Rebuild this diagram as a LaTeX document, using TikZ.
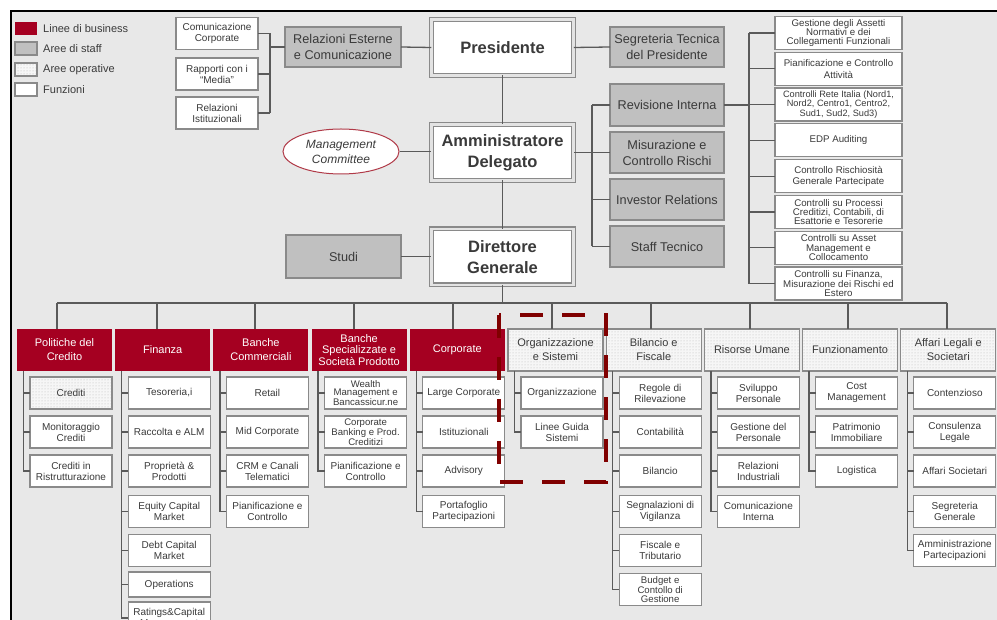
\documentclass[tikz,border=0pt]{standalone}
\usepackage{fontspec}
\setmainfont{Liberation Sans}
\usetikzlibrary{patterns,shapes.geometric}
\definecolor{bg}{HTML}{E8E8E8}
\definecolor{bizred}{HTML}{A50021}
\definecolor{staff}{HTML}{C0C0C0}
\definecolor{edge}{HTML}{8A8A8A}
\definecolor{ink}{HTML}{3A3A3A}
\definecolor{wirec}{HTML}{5A5A5A}
\definecolor{dashred}{HTML}{800000}
\definecolor{ellred}{HTML}{B03A48}

\begin{document}
\begin{tikzpicture}[x=1pt,y=-1pt,
  box/.style={rectangle, inner sep=0pt, outer sep=0pt, align=center, text=ink, line width=1.2pt},
  fnbox/.style={box, draw=edge, fill=white, minimum width=82, minimum height=32, font=\fontsize{10}{11}\selectfont},
  fntight/.style={fnbox, font=\fontsize{9.6}{8.8}\selectfont},
  rcbox/.style={box, draw=edge, fill=white, minimum width=127, minimum height=33, font=\fontsize{9.7}{9.3}\selectfont},
  rcwide/.style={rcbox, font=\fontsize{9.7}{11.5}\selectfont},
  staffbox/.style={box, draw=edge, fill=staff, minimum width=114, minimum height=41, font=\fontsize{12.7}{16}\selectfont},
  hdr/.style={box, minimum width=95, minimum height=42, font=\fontsize{11}{14}\selectfont},
  bizbox/.style={hdr, fill=bizred, text=white},
  opbox/.style={box, draw=edge, preaction={fill=gray!7}, pattern=dots, pattern color=gray!55},
  ophdr/.style={hdr, opbox},
  topbox/.style={box, draw=edge, double=gray!22, double distance=2.6pt, line width=1.2pt, fill=white,
    minimum width=142.5, minimum height=56, font=\bfseries\fontsize{16.5}{21}\selectfont},
  legtext/.style={anchor=west, inner sep=0pt, text=ink, font=\fontsize{11}{13}\selectfont},
  wire/.style={draw=wirec, line width=1.3pt},
]
\useasboundingbox (0,0) rectangle (997,620);
\clip (0,0) rectangle (997,620);

% frame and background
\fill[bg] (11,11) rectangle (999,622);
\draw[black, line width=2pt] (11,622) -- (11,11) -- (999,11);

% legend
\node[box, fill=bizred, minimum width=22, minimum height=13] (lg1) at (26,28.5) {};
\node[box, draw=edge, fill=staff, minimum width=22, minimum height=13] (lg2) at (26,48.5) {};
\node[box, opbox, minimum width=22, minimum height=13] (lg3) at (26,69.5) {};
\node[box, draw=edge, fill=white, minimum width=22, minimum height=13] (lg4) at (26,89.5) {};
\node[legtext] (lt1) at (43,28.5) {Linee di business};
\node[legtext] (lt2) at (43,48.5) {Aree di staff};
\node[legtext] (lt3) at (43,69.5) {Aree operative};
\node[legtext] (lt4) at (43,89.5) {Funzioni};

% top management
\node[topbox] (pres) at (502.5,47.5) {Presidente};
\node[topbox] (ad) at (502.5,152.5) {Amministratore\\Delegato};
\node[topbox] (dg) at (502.5,257) {Direttore\\Generale};

\node[staffbox, minimum width=116, minimum height=40] (relest) at (343,47) {Relazioni Esterne\\e Comunicazione};
\node[staffbox, minimum height=40] (segr) at (667,47) {Segreteria Tecnica\\del Presidente};
\node[staffbox, minimum width=115, minimum height=43] (studi) at (343.5,256.5) {Studi};
\node[staffbox, minimum height=42] (revint) at (667,105) {Revisione Interna};
\node[staffbox] (misur) at (667,152.5) {Misurazione e\\Controllo Rischi};
\node[staffbox] (invrel) at (667,199.5) {Investor Relations};
\node[staffbox] (stafftec) at (667,246.5) {Staff Tecnico};

\node[ellipse, draw=ellred, line width=1pt, fill=white, inner sep=0pt, minimum width=116, minimum height=45,
  text=ink, align=center, font=\itshape\fontsize{12}{15}\selectfont] (mc) at (341,151.5) {Management\\Committee};

% communication functions
\node[fnbox] (comcorp) at (217,33.5) {Comunicazione\\Corporate};
\node[fnbox] (rapp) at (217,74) {Rapporti con i\\“Media”};
\node[fnbox] (relist) at (217,113) {Relazioni\\Istituzionali};
\coordinate (tlb) at (270,47);

% internal audit functions
\node[rcbox] (r1) at (838.5,33) {Gestione degli Assetti\\Normativi e dei\\Collegamenti Funzionali};
\node[rcwide] (r2) at (838.5,68.8) {Pianificazione e Controllo\\Attività};
\node[rcbox, font=\fontsize{9.2}{9.3}\selectfont] (r3) at (838.5,104.6) {Controlli Rete Italia (Nord1,\\Nord2, Centro1, Centro2,\\Sud1, Sud2, Sud3)};
\node[rcbox] (r4) at (838.5,140.4) {EDP Auditing};
\node[rcwide] (r5) at (838.5,176.2) {Controllo Rischiosità\\Generale Partecipate};
\node[rcbox] (r6) at (838.5,212) {Controlli su Processi\\Creditizi, Contabili, di\\Esattorie e Tesorerie};
\node[rcbox] (r7) at (838.5,247.8) {Controlli su Asset\\Management e\\Collocamento};
\node[rcbox] (r8) at (838.5,283.6) {Controlli su Finanza,\\Misurazione dei Rischi ed\\Estero};
\coordinate (rb) at (749,105);
\coordinate (sb) at (592,152.5);

% connectors, upper part
\draw[wire] (pres.south) -- (ad.north);
\draw[wire] (ad.south) -- (dg.north);
\draw[wire] (relest.east) -- (pres.west);
\draw[wire] (pres.east) -- (segr.west);
\draw[wire] (mc.east) -- (mc.east -| ad.west);
\draw[wire] (studi.east) -- (studi.east -| dg.west);
\draw[wire] (comcorp.east) -- (comcorp.east -| tlb);
\draw[wire] (rapp.east) -- (rapp.east -| tlb);
\draw[wire] (relist.east) -- (relist.east -| tlb);
\draw[wire] (comcorp.east -| tlb) -- (relist.east -| tlb);
\draw[wire] (tlb) -- (relest.west);
\draw[wire] (ad.east) -- (misur.west);
\draw[wire] (revint.west -| sb) -- (stafftec.west -| sb);
\draw[wire] (revint.west) -- (revint.west -| sb);
\draw[wire] (invrel.west) -- (invrel.west -| sb);
\draw[wire] (stafftec.west) -- (stafftec.west -| sb);
\draw[wire] (revint.east) -- (rb);
\draw[wire] (r1.west -| rb) -- (r8.west -| rb);
\foreach \r in {r1,r2,r3,r4,r5,r6,r7,r8} \draw[wire] (\r.west) -- (\r.west -| rb);

% business lines and operating areas
\begin{scope}[xshift=17pt]
  \node[bizbox] (h1) at (47.5,350) {Politiche del\\Credito};
  \node[fnbox, opbox] (c1a) at (54,393) {Crediti};
  \node[fnbox] (c1b) at (54,432) {Monitoraggio\\Crediti};
  \node[fnbox] (c1c) at (54,471) {Crediti in\\Ristrutturazione};
  \coordinate (b1) at (6.5,371);
\end{scope}
\begin{scope}[xshift=115.2pt]
  \node[bizbox] (h2) at (47.5,350) {Finanza};
  \node[fnbox] (c2a) at (54,393) {Tesoreria,i};
  \node[fnbox] (c2b) at (54,432) {Raccolta e ALM};
  \node[fnbox] (c2c) at (54,471) {Proprietà \&\\Prodotti};
  \node[fnbox] (c2d) at (54,511.5) {Equity Capital\\Market};
  \node[fnbox] (c2e) at (54,550.5) {Debt Capital\\Market};
  \node[fnbox, minimum height=25] (c2f) at (54,584.5) {Operations};
  \node[fnbox] (c2g) at (54,618) {Ratings\&Capital\\Management};
  \coordinate (b2) at (6.5,371);
\end{scope}
\begin{scope}[xshift=213.4pt]
  \node[bizbox] (h3) at (47.5,350) {Banche\\Commerciali};
  \node[fnbox] (c3a) at (54,393) {Retail};
  \node[fnbox] (c3b) at (54,432) {Mid Corporate};
  \node[fnbox] (c3c) at (54,471) {CRM e Canali\\Telematici};
  \node[fnbox] (c3d) at (54,511.5) {Pianificazione e\\Controllo};
  \coordinate (b3) at (6.5,371);
\end{scope}
\begin{scope}[xshift=311.6pt]
  \node[bizbox, font=\fontsize{11}{11.5}\selectfont] (h4) at (47.5,350) {Banche\\Specializzate e\\Società Prodotto};
  \node[fntight] (c4a) at (54,393) {Wealth\\Management e\\Bancassicur.ne};
  \node[fntight] (c4b) at (54,432) {Corporate\\Banking e Prod.\\Creditizi};
  \node[fnbox] (c4c) at (54,471) {Pianificazione e\\Controllo};
  \coordinate (b4) at (6.5,371);
\end{scope}
\begin{scope}[xshift=409.8pt]
  \node[bizbox] (h5) at (47.5,350) {Corporate};
  \node[fnbox] (c5a) at (54,393) {Large Corporate};
  \node[fnbox] (c5b) at (54,432) {Istituzionali};
  \node[fnbox] (c5c) at (54,471) {Advisory};
  \node[fnbox] (c5d) at (54,511.5) {Portafoglio\\Partecipazioni};
  \coordinate (b5) at (6.5,371);
\end{scope}
\begin{scope}[xshift=508pt]
  \node[ophdr] (h6) at (47.5,350) {Organizzazione\\e Sistemi};
  \node[fnbox] (c6a) at (54,393) {Organizzazione};
  \node[fnbox] (c6b) at (54,432) {Linee Guida\\Sistemi};
  \coordinate (b6) at (6.5,371);
\end{scope}
\begin{scope}[xshift=606.2pt]
  \node[ophdr] (h7) at (47.5,350) {Bilancio e\\Fiscale};
  \node[fnbox] (c7a) at (54,393) {Regole di\\Rilevazione};
  \node[fnbox] (c7b) at (54,432) {Contabilità};
  \node[fnbox] (c7c) at (54,471) {Bilancio};
  \node[fnbox] (c7d) at (54,511.5) {Segnalazioni di\\Vigilanza};
  \node[fnbox] (c7e) at (54,550.5) {Fiscale e\\Tributario};
  \node[fntight] (c7f) at (54,589.5) {Budget e\\Contollo di\\Gestione};
  \coordinate (b7) at (6.5,371);
\end{scope}
\begin{scope}[xshift=704.4pt]
  \node[ophdr] (h8) at (47.5,350) {Risorse Umane};
  \node[fnbox] (c8a) at (54,393) {Sviluppo\\Personale};
  \node[fnbox] (c8b) at (54,432) {Gestione del\\Personale};
  \node[fnbox] (c8c) at (54,471) {Relazioni\\Industriali};
  \node[fnbox] (c8d) at (54,511.5) {Comunicazione\\Interna};
  \coordinate (b8) at (6.5,371);
\end{scope}
\begin{scope}[xshift=802.6pt]
  \node[ophdr] (h9) at (47.5,350) {Funzionamento};
  \node[fnbox] (c9a) at (54,393) {Cost\\Management};
  \node[fnbox] (c9b) at (54,432) {Patrimonio\\Immobiliare};
  \node[fnbox] (c9c) at (54,471) {Logistica};
  \coordinate (b9) at (6.5,371);
\end{scope}
\begin{scope}[xshift=900.8pt]
  \node[ophdr] (h10) at (47.5,350) {Affari Legali e\\Societari};
  \node[fnbox] (c10a) at (54,393) {Contenzioso};
  \node[fnbox] (c10b) at (54,432) {Consulenza\\Legale};
  \node[fnbox] (c10c) at (54,471) {Affari Societari};
  \node[fnbox] (c10d) at (54,511.5) {Segreteria\\Generale};
  \node[fnbox] (c10e) at (54,550.5) {Amministrazione\\Partecipazioni};
  \coordinate (b10) at (6.5,371);
\end{scope}

% main bus below the Direttore Generale
\coordinate (d1) at (57,303);
\coordinate (d2) at (157,303);
\coordinate (d3) at (255,303);
\coordinate (d4) at (354,303);
\coordinate (d5) at (453,303);
\coordinate (d6) at (552,303);
\coordinate (d7) at (651,303);
\coordinate (d8) at (750,303);
\coordinate (d9) at (848,303);
\coordinate (d10) at (947,303);
\draw[wire] (d1) -- (d10);
\draw[wire] (dg.south) -- (dg.south |- d1);
\foreach \i in {1,...,10} \draw[wire] (d\i) -- (d\i |- h\i.north);

% branches inside each column
\foreach \col/\last/\items in {1/c1c/{c1a,c1b},2/c2g/{c2a,c2b,c2c,c2d,c2e,c2f},3/c3d/{c3a,c3b,c3c},
    4/c4c/{c4a,c4b},5/c5d/{c5a,c5b,c5c},6/c6b/{c6a},7/c7f/{c7a,c7b,c7c,c7d,c7e},
    8/c8d/{c8a,c8b,c8c},9/c9c/{c9a,c9b},10/c10e/{c10a,c10b,c10c,c10d}} {
  \draw[wire] (b\col) |- (\last.west);
  \foreach \n in \items \draw[wire] (\n.west) -- (\n.west -| b\col);
}
% highlighted area
\draw[dashred, line width=4.5pt, dash pattern=on 23pt off 19pt] (499,315) rectangle (606,482);
\end{tikzpicture}
\end{document}
